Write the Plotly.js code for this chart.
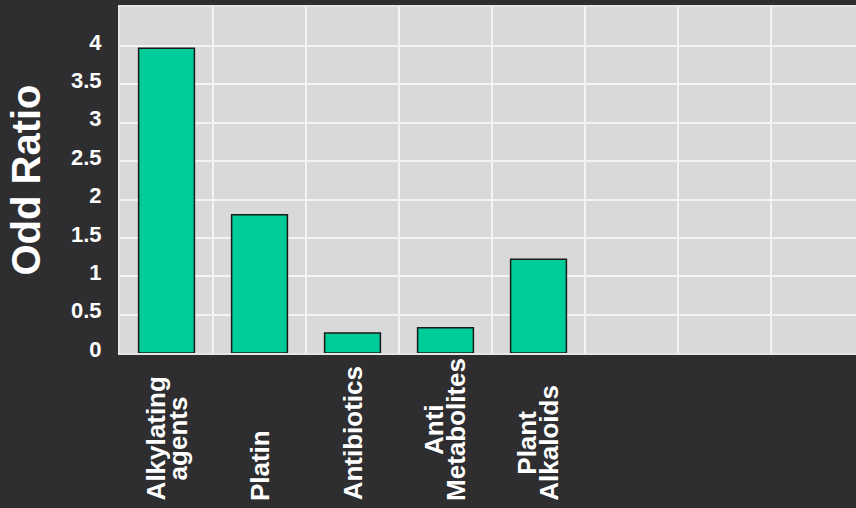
<!DOCTYPE html>
<html>
<head>
<meta charset="utf-8">
<script src="https://cdn.plot.ly/plotly-3.0.1.min.js"></script>
<style>
  html, body { margin: 0; padding: 0; background: #2e2e31; }
  #chart { width: 856px; height: 508px; }
</style>
</head>
<body>
<div id="chart"></div>
<script>
// ---- data ----
const categories = ["Alkylating agents", "Platin", "Antibiotics", "Anti Metabolites", "Plant Alkaloids"];
const labelLines = [["Alkylating", "agents"], ["Platin"], ["Antibiotics"], ["Anti", "Metabolites"], ["Plant", "Alkaloids"]];
const oddRatio = [3.97, 1.8, 0.26, 0.33, 1.22];
const yTickVals = [0, 0.5, 1, 1.5, 2, 2.5, 3, 3.5, 4];
const yTickText = ["0", "0.5", "1", "1.5", "2", "2.5", "3", "3.5", "4"];
const yTitle = "Odd Ratio";

// ---- styles ----
const FONT = "Liberation Sans, Arial, sans-serif";
const LABEL_SIZE = 26;
const LINE_PITCH = 22;
const plotBottomPx = 353, labelBottomPx = 503, plotHeightPx = 346;

const xIndex = categories.map((c, i) => i);

const ctx = document.createElement("canvas").getContext("2d");
ctx.font = "bold " + LABEL_SIZE + "px 'Liberation Sans'";

const annotations = [];
labelLines.forEach((lines, ci) => {
  const longest = Math.max(...lines.map(l => ctx.measureText(l).width));
  lines.forEach((line, li) => {
    annotations.push({
      xref: "x", yref: "paper",
      x: xIndex[ci],
      y: -(labelBottomPx - plotBottomPx) / plotHeightPx,
      text: "<b>" + line + "</b>",
      textangle: -90,
      showarrow: false,
      xanchor: "center", yanchor: "middle",
      xshift: (li - (lines.length - 1) / 2) * LINE_PITCH,
      yshift: longest / 2 + 2,
      font: { family: FONT, size: LABEL_SIZE, color: "#ffffff" }
    });
  });
});

const trace = {
  type: "bar",
  x: xIndex,
  y: oddRatio,
  text: categories,
  textposition: "none",
  width: 0.6,
  marker: { color: "#00cc99", line: { color: "#1a1a1a", width: 1.5 } },
  hovertemplate: "%{text}: %{y}<extra></extra>"
};

const layout = {
  width: 856, height: 508,
  margin: { l: 120, r: 0, t: 7, b: 155, pad: 0 },
  paper_bgcolor: "#2e2e31",
  plot_bgcolor: "#d9d9d9",
  showlegend: false,
  xaxis: {
    type: "linear",
    range: [-0.5, 7.414],
    tick0: 0.5, dtick: 1,
    showticklabels: false,
    ticks: "",
    showgrid: true, gridcolor: "#f4f4f4", gridwidth: 2,
    showline: true, mirror: true, linecolor: "#e6e6e6", linewidth: 2,
    zeroline: false, fixedrange: true
  },
  yaxis: {
    range: [0, 4.508],
    tickvals: yTickVals,
    ticktext: yTickText,
    ticks: "",
    ticklabelstandoff: 12,
    ticklabelshift: -4,
    tickfont: { family: FONT, size: 22, color: "#ffffff", weight: "bold" },
    showgrid: true, gridcolor: "#f4f4f4", gridwidth: 2,
    showline: true, linecolor: "#e6e6e6", linewidth: 2,
    zeroline: false, fixedrange: true,
    title: { text: "<b>" + yTitle + "</b>", standoff: 18,
             font: { family: FONT, size: 40, color: "#ffffff" } }
  },
  annotations: annotations
};

Plotly.newPlot("chart", [trace], layout, { displayModeBar: false, staticPlot: true });
</script>
</body>
</html>
